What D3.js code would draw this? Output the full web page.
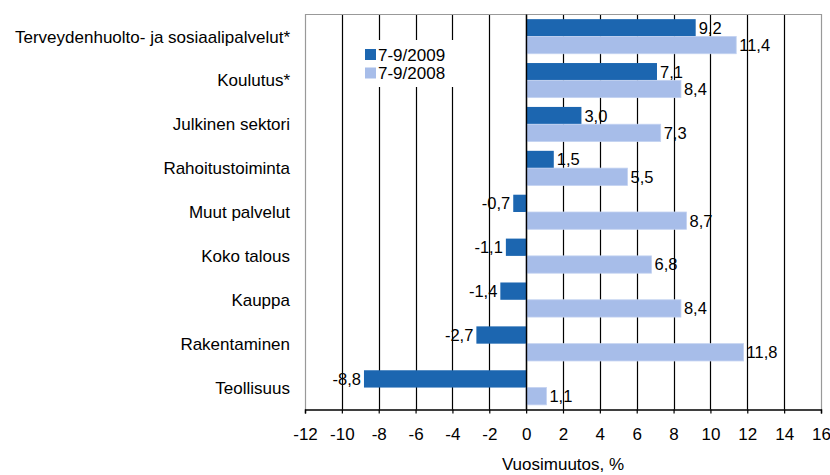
<!DOCTYPE html>
<html><head><meta charset="utf-8">
<script src="https://cdn.jsdelivr.net/npm/d3@7"></script>
<style>body{margin:0;background:#fff}svg{display:block}text{font-family:"Liberation Sans",Arial,sans-serif;fill:#000}</style>
</head><body><svg id="c" width="830" height="475"></svg>
<script>
const categories = ["Terveydenhuolto- ja sosiaalipalvelut*","Koulutus*","Julkinen sektori","Rahoitustoiminta","Muut palvelut","Koko talous","Kauppa","Rakentaminen","Teollisuus"];
const series2009 = [9.2,7.1,3.0,1.5,-0.7,-1.1,-1.4,-2.7,-8.8];
const series2008 = [11.4,8.4,7.3,5.5,8.7,6.8,8.4,11.8,1.1];
const seriesNames = ["7-9/2009","7-9/2008"];
const tickValues = [-12,-10,-8,-6,-4,-2,0,2,4,6,8,10,12,14,16];
const axisTitle = "Vuosimuutos, %";
const colors = ["#1c66b0","#a7bde9"];

const svg = d3.select("#c");
const L=305, R=821, T=14.5, B=409.5;
const x = d3.scaleLinear().domain([-12,16]).range([L,R]);
const y0 = d3.scaleBand().domain(categories).range([T,B]).paddingInner(0.212).paddingOuter(0.106);
const y1 = d3.scaleBand().domain([0,1]).range([0,y0.bandwidth()]);
const fmt = v => v.toFixed(1).replace(".",",");

// gridlines
svg.append("g").selectAll("line").data(tickValues.slice(1,-1)).join("line")
  .attr("x1",d=>Math.round(x(d))+0.5).attr("x2",d=>Math.round(x(d))+0.5)
  .attr("y1",T).attr("y2",B).attr("stroke","#000").attr("stroke-width",1.2);

// border
svg.append("path").attr("d",`M${L+0.5},${B}V${T}H${R+0.5}V${B}`).attr("fill","none").attr("stroke","#999").attr("stroke-width",1.2);

// legend background
svg.append("rect").attr("x",346).attr("y",40).attr("width",124).attr("height",47).attr("fill","#fff");

// bars
const data = categories.map((c,i)=>({c, vals:[series2009[i],series2008[i]]}));
const rows = svg.append("g").selectAll("g").data(data).join("g")
  .attr("transform",d=>`translate(0,${y0(d.c)})`);
rows.selectAll("rect").data(d=>d.vals.map((v,k)=>({v,k}))).join("rect")
  .attr("x",d=>x(Math.min(0,d.v))).attr("width",d=>Math.abs(x(d.v)-x(0)))
  .attr("y",d=>y1(d.k)).attr("height",y1.bandwidth())
  .attr("fill",d=>colors[d.k])
  .attr("stroke",d=>d.k===1?"#c3d2f1":"none").attr("stroke-width",0.8);
rows.selectAll("text").data(d=>d.vals.map((v,k)=>({v,k}))).join("text")
  .attr("x",d=>d.v>=0?x(d.v)+3:x(d.v)-3)
  .attr("y",d=>y1(d.k)+y1.bandwidth()/2).attr("dy","0.36em")
  .attr("text-anchor",d=>d.v>=0?"start":"end").attr("font-size",16.5)
  .text(d=>fmt(d.v));

// zero line
svg.append("line").attr("x1",Math.round(x(0))+0.5).attr("x2",Math.round(x(0))+0.5).attr("y1",T).attr("y2",B).attr("stroke","#000").attr("stroke-width",1.4);

// x axis
const ax = svg.append("g").attr("transform",`translate(0,${B})`)
  .call(d3.axisBottom(x).tickValues(tickValues).tickSize(4).tickPadding(14.5).tickFormat(d=>String(d)));
ax.select(".domain").attr("stroke","#000").attr("stroke-width",1.4);
ax.selectAll(".tick line").attr("stroke","#000").attr("stroke-width",1.2);
ax.selectAll(".tick text").attr("font-size",17).attr("font-family","'Liberation Sans',Arial,sans-serif").attr("fill","#000");

svg.append("text").attr("x",(L+R)/2).attr("y",470).attr("text-anchor","middle").attr("font-size",17).text(axisTitle);

// category labels
svg.append("g").selectAll("text").data(categories).join("text")
  .attr("x",290).attr("y",d=>y0(d)+y0.bandwidth()/2).attr("dy","0.36em")
  .attr("text-anchor","end").attr("font-size",17).text(d=>d);

// legend
const lg = svg.append("g").selectAll("g").data(seriesNames).join("g")
  .attr("transform",(d,i)=>`translate(365,${49+i*18.5})`);
lg.append("rect").attr("width",11).attr("height",11).attr("fill",(d,i)=>colors[i]);
lg.append("text").attr("x",13).attr("y",5.5).attr("dy","0.36em").attr("font-size",17).text(d=>d);
</script></body></html>
